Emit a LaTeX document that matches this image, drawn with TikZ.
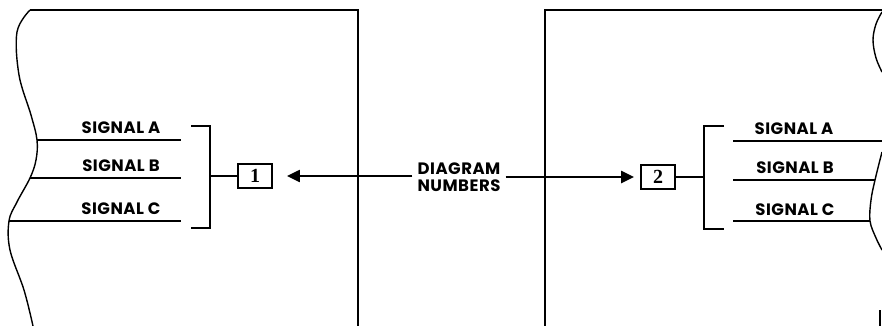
\documentclass[tikz,border=0pt]{standalone}
\usepackage{fontspec}
\setmainfont{Poppins}[LetterSpace=3]
\newfontfamily\numfont{Liberation Serif}
\usetikzlibrary{arrows.meta}

\begin{document}
\begin{tikzpicture}[x=1pt,y=-1pt,>={Triangle[length=13pt,width=12pt]},
  every node/.style={font=\bfseries\fontsize{16.5}{17}\selectfont,inner sep=0pt},
  wire/.style={line width=2.2pt},
  edge line/.style={line width=1.4pt},
  numbox/.style={draw,line width=1.8pt,minimum width=34pt,minimum height=24pt,font=\numfont\bfseries\fontsize{20}{20}\selectfont}]
  \useasboundingbox (0,0) rectangle (882,326);
  % left panel
  \coordinate (sa) at (37,140);
  \coordinate (sb) at (30,178);
  \coordinate (sc) at (9,221);
  \draw[wire] (30,10) -- (358,10) -- (358,326);
  \draw[edge line] plot[smooth,tension=0.6] coordinates {(30,10) (17,32) (19,75) (31,115) (sa) (36,160) (sb) (17,202) (sc) (10,250) (24,290) (33,326)};
  \coordinate (ea) at (181,140);
  \coordinate (eb) at (181,178);
  \coordinate (ec) at (181,221);
  \draw[wire] (sa) -- (ea);
  \draw[edge line] (sb) -- (eb);
  \draw[edge line] (sc) -- (ec);
  \node (la) at (121,128) {SIGNAL A};
  \node (lb) at (121,166) {SIGNAL B};
  \node (lc) at (121,209) {SIGNAL C};
  \draw[wire] (191,126) -| (210,228) -- (191,228);
  \coordinate (bl) at (210,176);
  \node[numbox] (box1) at (255,176) {1};
  \draw[edge line] (bl) -- (box1);
  % right panel
  \draw[wire] (882,10) -- (545,10) -- (545,326);
  \node[numbox] (box2) at (658,177) {2};
  \coordinate (br) at (704,177);
  \draw[wire] (br) -- (box2);
  \draw[wire] (724,126) -| (704,229) -- (724,229);
  \coordinate (ra) at (733,141);
  \coordinate (rb) at (733,180);
  \coordinate (rc) at (733,221);
  \coordinate (ta) at (882,141);
  \coordinate (tb) at (875,180);
  \coordinate (tc) at (870,221);
  \draw[edge line] (ra) -- (ta);
  \draw[wire] (rb) -- (tb);
  \draw[wire] (rc) -- (tc);
  \draw[edge line] plot[smooth,tension=0.6] coordinates {(882,12) (876,24) (873,40) (876,58) (882,72)};
  \draw[edge line] plot[smooth,tension=0.6] coordinates {(882,152) (tb) (871,200) (tc) (876,238) (882,250)};
  \draw[edge line] (880,310) -- (880,326);
  \node (ka) at (794,129) {SIGNAL A};
  \node (kb) at (795,168) {SIGNAL B};
  \node (kc) at (795,210) {SIGNAL C};
  % diagram numbers
  \node[align=center,inner sep=5pt] (dn) at (459,177) {DIAGRAM\\NUMBERS};
  \draw[wire,->,shorten >=14pt] (dn.west |- box1) -- (box1.east);
  \draw[wire,->,shorten >=6pt] (dn.east |- box2) -- (box2.west);
\end{tikzpicture}
\end{document}
